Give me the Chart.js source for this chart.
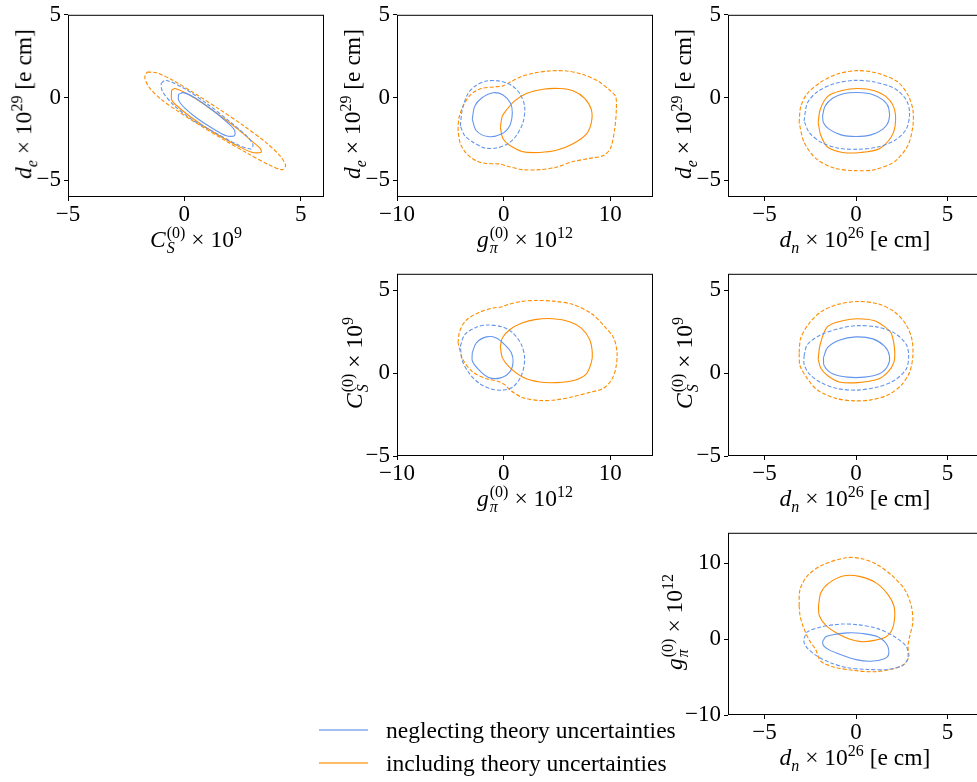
<!DOCTYPE html>
<html>
<head>
<meta charset="utf-8">
<script src="https://cdn.jsdelivr.net/npm/chart.js@4.4.1/dist/chart.umd.min.js"></script>
<style>
  body { margin: 0; width: 977px; height: 782px; overflow: hidden; background: #fff; position: relative;
         font-family: "Liberation Serif", "DejaVu Serif", serif; }
  canvas { position: absolute; }
  .lbl { position: absolute; font-size: 23.5px; white-space: nowrap; color: #000; line-height: 1;
         transform: translate(-50%, -50%); }
  .rot { transform: translate(-50%, -50%) rotate(-90deg); }
  .lbl sub, .lbl sup { font-size: 16px; line-height: 0; }
  .stk { display: inline-flex; flex-direction: column; font-size: 16px; line-height: 15px;
         vertical-align: 9px; margin: 0 6px 0 1px; }
  .stk .d { font-style: italic; }
  .leg { position: absolute; font-size: 23.5px; white-space: nowrap; transform: translateY(-50%); }
  .legline { position: absolute; height: 2px; width: 49px; }
</style>
</head>
<body>
<canvas id="pA"></canvas>
<canvas id="pB"></canvas>
<canvas id="pC"></canvas>
<canvas id="pD"></canvas>
<canvas id="pE"></canvas>
<canvas id="pF"></canvas>

<script>
// contour points, [x, y] in data units
// panel C_S vs d_e
const csDe_blueSolid = [[-0.25,0.2],[-0.05,0.3],[0.5,-0.05],[1.2,-0.75],[1.8,-1.45],[2.15,-1.95],[2.15,-2.3],[1.8,-2.3],[1.2,-1.85],[0.5,-1.2],[0,-0.6],[-0.25,-0.15],[-0.25,0.2]];
const csDe_blueDash = [[-1.0,0.85],[-0.8,1.05],[0.0,0.55],[1.0,-0.4],[2.0,-1.5],[2.7,-2.35],[2.95,-2.85],[2.85,-3.1],[2.3,-2.85],[1.3,-2.1],[0.3,-1.3],[-0.5,-0.4],[-0.95,0.4],[-1.0,0.85]];
const csDe_orangeSolid = [[-0.55,0.45],[-0.4,0.55],[0.3,0.1],[1.2,-0.75],[2.2,-1.8],[3.0,-2.75],[3.25,-3.05],[3.3,-3.3],[2.9,-3.3],[2.2,-2.85],[1.2,-2.05],[0.3,-1.2],[-0.4,-0.4],[-0.55,-0.1],[-0.55,0.45]];
const csDe_orangeDash = [[-1.6,1.55],[-1.2,1.5],[-0.5,1.05],[0.5,0.2],[1.5,-0.7],[2.5,-1.65],[3.5,-2.7],[4.1,-3.5],[4.35,-4.1],[4.2,-4.35],[3.7,-4.1],[2.7,-3.35],[1.7,-2.55],[0.7,-1.7],[-0.3,-0.8],[-1.0,-0.1],[-1.5,0.6],[-1.7,1.2],[-1.6,1.55]];

// panel g_pi vs d_e
const gpDe_blueSolid = [[-2.94,-1.31],[-2.72,-0.53],[-2.09,-0.04],[-1.0,0.29],[-0.06,0.16],[0.63,-0.33],[0.81,-0.92],[0.56,-1.71],[-0.22,-2.2],[-1.47,-2.35],[-2.56,-2.0],[-2.94,-1.31]];
const gpDe_blueDash = [[-4.06,-1.71],[-3.88,-0.73],[-3.34,0.25],[-2.56,0.75],[-1.63,1.0],[-0.38,1.0],[0.72,0.75],[1.5,0.25],[1.97,-0.53],[1.81,-1.51],[1.19,-2.29],[0.41,-2.78],[-0.69,-3.04],[-1.78,-3.04],[-2.88,-2.69],[-3.66,-2.29],[-4.06,-1.71]];
const gpDe_orangeSolid = [[-0.31,-1.8],[-0.13,-1.12],[0.25,-0.76],[1.03,-0.2],[2.13,0.25],[3.69,0.51],[5.25,0.55],[6.5,0.41],[7.59,-0.04],[8.22,-0.73],[8.22,-1.51],[7.75,-2.2],[6.5,-2.78],[4.94,-3.18],[3.38,-3.31],[1.81,-3.27],[0.56,-2.88],[-0.06,-2.49],[-0.31,-1.8]];
const gpDe_orangeDash = [[-4.28,-2.0],[-4.19,-1.22],[-3.75,-0.43],[-3.03,0.22],[-2.09,0.55],[-0.84,0.65],[-0.06,0.71],[0.72,0.98],[1.66,1.27],[2.91,1.49],[4.31,1.61],[5.88,1.61],[7.44,1.39],[8.84,1.0],[9.94,0.45],[10.5,0.06],[10.56,-0.73],[10.41,-1.9],[10.0,-3.08],[9.31,-3.51],[8.06,-3.67],[6.5,-3.86],[4.94,-4.2],[3.38,-4.35],[1.81,-4.35],[0.25,-4.12],[-0.44,-4.0],[-1.63,-3.98],[-2.56,-3.82],[-3.5,-3.37],[-4.06,-2.78],[-4.28,-2.0]];

// panel d_n vs d_e
const dnDe_blueSolid = [[-1.83,-1.12],[-1.7,-0.53],[-1.28,-0.04],[-0.64,0.25],[0.09,0.31],[0.82,0.22],[1.47,-0.14],[1.79,-0.63],[1.79,-1.41],[1.47,-1.9],[0.82,-2.25],[0.0,-2.35],[-0.82,-2.25],[-1.47,-1.9],[-1.78,-1.51],[-1.83,-1.12]];
const dnDe_blueDash = [[-2.84,-1.41],[-2.66,-0.33],[-2.11,0.35],[-1.19,0.84],[-0.09,1.04],[1.01,0.94],[2.11,0.55],[2.75,-0.14],[2.93,-0.92],[2.75,-1.9],[2.11,-2.59],[1.19,-2.98],[0.09,-3.12],[-1.01,-3.04],[-1.92,-2.69],[-2.56,-2.1],[-2.84,-1.41]];
const dnDe_orangeSolid = [[-2.07,-1.51],[-1.96,-0.73],[-1.56,0.06],[-0.82,0.41],[0.09,0.55],[1.01,0.41],[1.74,-0.04],[2.11,-0.73],[2.14,-1.71],[1.92,-2.39],[1.28,-3.08],[0.27,-3.31],[-0.73,-3.31],[-1.56,-2.98],[-1.92,-2.29],[-2.07,-1.51]];
const dnDe_orangeDash = [[-3.11,-1.51],[-3.02,-0.53],[-2.66,0.25],[-1.92,0.94],[-1.01,1.43],[0.09,1.63],[1.19,1.47],[2.29,0.94],[2.84,0.16],[3.11,-0.73],[3.11,-1.71],[2.84,-2.88],[2.11,-3.86],[1.01,-4.35],[-0.09,-4.41],[-1.19,-4.25],[-2.2,-3.67],[-2.84,-2.69],[-3.11,-1.51]];

// panel g_pi vs C_S
const gpCs_blueSolid = [[-2.94,1.24],[-2.56,1.83],[-1.63,2.19],[-0.69,2.13],[0.09,1.73],[0.72,1.24],[0.88,0.65],[0.56,0.06],[-0.38,-0.3],[-1.47,-0.24],[-2.41,0.26],[-2.94,0.75],[-2.94,1.24]];
const gpCs_blueDash = [[-4.06,1.63],[-3.66,2.32],[-2.56,2.78],[-1.47,2.91],[-0.06,2.78],[0.88,2.42],[1.66,1.73],[1.97,0.85],[1.66,-0.14],[0.88,-0.83],[-0.06,-1.02],[-1.16,-0.96],[-2.25,-0.63],[-3.19,-0.04],[-3.88,0.75],[-4.06,1.63]];
const gpCs_orangeSolid = [[-0.31,1.63],[-0.13,2.13],[0.56,2.62],[1.66,3.01],[3.06,3.25],[4.63,3.29],[6.19,3.11],[7.28,2.72],[8.06,2.03],[8.31,1.24],[8.22,0.65],[7.75,-0.04],[6.66,-0.43],[4.94,-0.57],[3.38,-0.53],[1.81,-0.24],[0.56,0.35],[-0.13,0.94],[-0.31,1.63]];
const gpCs_orangeDash = [[-4.28,1.83],[-4.13,2.52],[-3.56,3.17],[-2.41,3.64],[-1.0,3.94],[-0.22,4.0],[0.41,4.15],[1.66,4.33],[3.06,4.39],[4.63,4.35],[6.5,4.15],[8.22,3.6],[9.47,2.81],[10.31,2.13],[10.63,1.24],[10.5,0.26],[10.09,-0.43],[9.31,-0.93],[8.06,-1.16],[6.5,-1.42],[4.94,-1.61],[3.38,-1.65],[1.81,-1.48],[0.72,-1.08],[0.09,-0.69],[-0.53,-0.49],[-1.63,-0.33],[-2.88,0.06],[-3.81,0.81],[-4.28,1.83]];

// panel d_n vs C_S
const dnCs_blueSolid = [[-1.78,0.94],[-1.56,1.54],[-0.92,1.99],[0.0,2.19],[0.92,2.07],[1.56,1.63],[1.83,1.04],[1.74,0.45],[1.28,-0.04],[0.46,-0.24],[-0.46,-0.24],[-1.28,-0.04],[-1.74,0.45],[-1.78,0.94]];
const dnCs_blueDash = [[-2.84,1.04],[-2.66,1.73],[-1.92,2.32],[-0.82,2.72],[0.09,2.87],[1.19,2.78],[2.11,2.42],[2.75,1.73],[2.88,1.04],[2.75,0.26],[2.11,-0.43],[1.19,-0.83],[0.09,-1.02],[-1.01,-0.93],[-1.92,-0.57],[-2.56,-0.04],[-2.84,0.55],[-2.84,1.04]];
const dnCs_orangeSolid = [[-2.07,0.85],[-1.96,1.73],[-1.56,2.81],[-0.73,3.17],[0.09,3.29],[1.01,3.17],[1.56,2.81],[1.92,2.42],[2.11,1.44],[2.07,0.65],[1.74,0.06],[1.19,-0.37],[0.09,-0.57],[-0.92,-0.53],[-1.56,-0.14],[-1.92,0.3],[-2.07,0.85]];
const dnCs_orangeDash = [[-3.11,1.24],[-3.02,2.13],[-2.56,3.01],[-1.92,3.7],[-1.01,4.15],[0.09,4.33],[1.19,4.19],[2.11,3.7],[2.75,2.91],[3.06,2.03],[3.11,1.04],[2.93,0.06],[2.47,-0.73],[1.74,-1.32],[0.82,-1.61],[-0.09,-1.67],[-1.1,-1.52],[-2.11,-1.02],[-2.66,-0.33],[-3.06,0.45],[-3.11,1.24]];

// panel d_n vs g_pi
const dnGp_blueSolid = [[-1.83,-0.34],[-1.65,0.3],[-1.19,0.6],[-0.46,0.82],[0.37,0.73],[1.19,0.3],[1.7,-0.77],[1.78,-2.06],[1.56,-2.58],[0.82,-2.92],[0.0,-2.71],[-0.82,-2.06],[-1.47,-1.42],[-1.78,-0.86],[-1.83,-0.34]];
const dnGp_blueDash = [[-2.84,0.09],[-2.66,0.95],[-1.92,1.59],[-0.82,1.98],[0.09,1.89],[1.19,1.38],[2.11,0.3],[2.75,-0.99],[2.84,-2.49],[2.56,-3.44],[1.74,-4.0],[0.64,-4.0],[-0.46,-3.78],[-1.37,-3.14],[-2.11,-2.28],[-2.66,-1.2],[-2.84,-0.43],[-2.84,0.09]];
const dnGp_orangeSolid = [[-2.05,4.39],[-1.92,6.11],[-1.47,7.4],[-0.64,8.34],[0.18,8.26],[1.1,7.4],[1.74,5.89],[2.07,4.39],[2.11,2.67],[1.96,1.16],[1.65,0.3],[1.01,-0.17],[0.27,-0.34],[-0.37,0.0],[-1.01,0.73],[-1.65,1.81],[-2.01,3.1],[-2.05,4.39]];
const dnGp_orangeDash = [[-3.11,4.39],[-3.06,6.54],[-2.66,8.34],[-1.83,9.76],[-0.55,10.71],[0.27,10.62],[1.1,9.89],[1.92,8.47],[2.66,6.54],[3.02,4.39],[3.11,2.24],[2.93,0.3],[2.84,-0.99],[2.89,-2.28],[2.66,-3.27],[2.11,-3.87],[1.01,-4.3],[-0.09,-4.13],[-1.19,-3.7],[-1.92,-2.92],[-2.2,-1.42],[-2.56,-0.13],[-2.88,1.59],[-3.06,3.1],[-3.11,4.39]];

// axis ranges and tick steps
const rangeCs_x = [-5, 6], rangeDe_y = [-6, 5], rangeGp = [-10, 14], rangeDn_x = [-7, 7], rangeCs_y = [-5, 6];

const BLUE = "#6495ED", ORANGE = "#FF8C00";

const frame = {
  id: "frame",
  afterDraw(chart) {
    const { ctx, chartArea: a } = chart;
    ctx.save();
    ctx.strokeStyle = "#000";
    ctx.lineWidth = 1;
    ctx.strokeRect(a.left + 0.5, a.top + 0.5, a.right - a.left - 1, a.bottom - a.top - 1);
    ctx.restore();
  }
};

function line(pts, color, dashed) {
  return {
    data: pts.map(p => ({ x: p[0], y: p[1] })),
    showLine: true, pointRadius: 0, borderColor: color, borderWidth: 1.1,
    borderDash: dashed ? [4, 2] : [], tension: 0.3, fill: false
  };
}

function axis(r, step, pos, pad, fix) {
  return {
    type: "linear", position: pos, min: r[0], max: r[1],
    ticks: {
      stepSize: step, includeBounds: false, autoSkip: false, maxRotation: 0, padding: pad,
      color: "#000", font: { family: "Liberation Serif", size: 23 },
      callback: v => String(v).replace("-", "\u2212")
    },
    grid: { drawOnChartArea: false, drawTicks: true, tickLength: 4, color: "#000" },
    border: { display: false },
    afterFit: fix
  };
}

// area: [left, top, width, height] of the plot box
function panel(id, area, xr, xs, yr, ys, sets) {
  const padL = 62, padT = 12, padR = 14, padB = 40;
  const cv = document.getElementById(id);
  cv.width = area[2] + padL + padR;
  cv.height = area[3] + padT + padB;
  cv.style.left = (area[0] - padL) + "px";
  cv.style.top = (area[1] - padT) + "px";
  new Chart(cv, {
    type: "scatter",
    data: { datasets: sets },
    options: {
      responsive: false, animation: false, events: [],
      layout: { padding: { top: padT, right: padR, left: 0, bottom: 0 } },
      plugins: { legend: { display: false }, tooltip: { enabled: false } },
      scales: {
        x: axis(xr, xs, "bottom", 0, s => { s.height = padB; }),
        y: axis(yr, ys, "left", 3, s => { s.width = padL; })
      }
    },
    plugins: [frame]
  });
}

const W = 256, H = 187;
const col = [68, 397, 728], row = [10, 269, 528];

panel("pA", [col[0], row[0], W, H], rangeCs_x, 5, rangeDe_y, 5, [
  line(csDe_blueSolid, BLUE, false), line(csDe_blueDash, BLUE, true),
  line(csDe_orangeSolid, ORANGE, false), line(csDe_orangeDash, ORANGE, true)]);
panel("pB", [col[1], row[0], W, H], rangeGp, 10, rangeDe_y, 5, [
  line(gpDe_blueSolid, BLUE, false), line(gpDe_blueDash, BLUE, true),
  line(gpDe_orangeSolid, ORANGE, false), line(gpDe_orangeDash, ORANGE, true)]);
panel("pC", [col[2], row[0], W, H], rangeDn_x, 5, rangeDe_y, 5, [
  line(dnDe_blueSolid, BLUE, false), line(dnDe_blueDash, BLUE, true),
  line(dnDe_orangeSolid, ORANGE, false), line(dnDe_orangeDash, ORANGE, true)]);
panel("pD", [col[1], row[1], W, H], rangeGp, 10, rangeCs_y, 5, [
  line(gpCs_blueSolid, BLUE, false), line(gpCs_blueDash, BLUE, true),
  line(gpCs_orangeSolid, ORANGE, false), line(gpCs_orangeDash, ORANGE, true)]);
panel("pE", [col[2], row[1], W, H], rangeDn_x, 5, rangeCs_y, 5, [
  line(dnCs_blueSolid, BLUE, false), line(dnCs_blueDash, BLUE, true),
  line(dnCs_orangeSolid, ORANGE, false), line(dnCs_orangeDash, ORANGE, true)]);
panel("pF", [col[2], row[2], W, H], rangeDn_x, 5, rangeGp, 10, [
  line(dnGp_blueSolid, BLUE, false), line(dnGp_blueDash, BLUE, true),
  line(dnGp_orangeSolid, ORANGE, false), line(dnGp_orangeDash, ORANGE, true)]);
</script>

<!-- axis titles -->
<div class="lbl rot" style="left:24px;top:104px"><i>d</i><sub><i>e</i></sub> × 10<sup>29</sup> [e cm]</div>
<div class="lbl rot" style="left:353px;top:104px"><i>d</i><sub><i>e</i></sub> × 10<sup>29</sup> [e cm]</div>
<div class="lbl rot" style="left:684px;top:104px"><i>d</i><sub><i>e</i></sub> × 10<sup>29</sup> [e cm]</div>
<div class="lbl rot" style="left:355px;top:363px"><i>C</i><span class="stk"><span>(0)</span><span class="d">S</span></span>× 10<sup>9</sup></div>
<div class="lbl rot" style="left:685px;top:363px"><i>C</i><span class="stk"><span>(0)</span><span class="d">S</span></span>× 10<sup>9</sup></div>
<div class="lbl rot" style="left:675px;top:622px"><i>g</i><span class="stk"><span>(0)</span><span class="d">π</span></span>× 10<sup>12</sup></div>

<div class="lbl" style="left:196px;top:240px"><i>C</i><span class="stk"><span>(0)</span><span class="d">S</span></span>× 10<sup>9</sup></div>
<div class="lbl" style="left:525px;top:240px"><i>g</i><span class="stk"><span>(0)</span><span class="d">π</span></span>× 10<sup>12</sup></div>
<div class="lbl" style="left:855px;top:240px"><i>d</i><sub><i>n</i></sub> × 10<sup>26</sup> [e cm]</div>
<div class="lbl" style="left:525px;top:499px"><i>g</i><span class="stk"><span>(0)</span><span class="d">π</span></span>× 10<sup>12</sup></div>
<div class="lbl" style="left:855px;top:499px"><i>d</i><sub><i>n</i></sub> × 10<sup>26</sup> [e cm]</div>
<div class="lbl" style="left:855px;top:758px"><i>d</i><sub><i>n</i></sub> × 10<sup>26</sup> [e cm]</div>

<!-- legend -->
<div class="legline" style="left:319px;top:729px;background:rgba(100,149,237,0.6)"></div>
<div class="leg" style="left:386px;top:730px">neglecting theory uncertainties</div>
<div class="legline" style="left:319px;top:762px;background:rgba(255,140,0,0.6)"></div>
<div class="leg" style="left:386px;top:763px">including theory uncertainties</div>
</body>
</html>
